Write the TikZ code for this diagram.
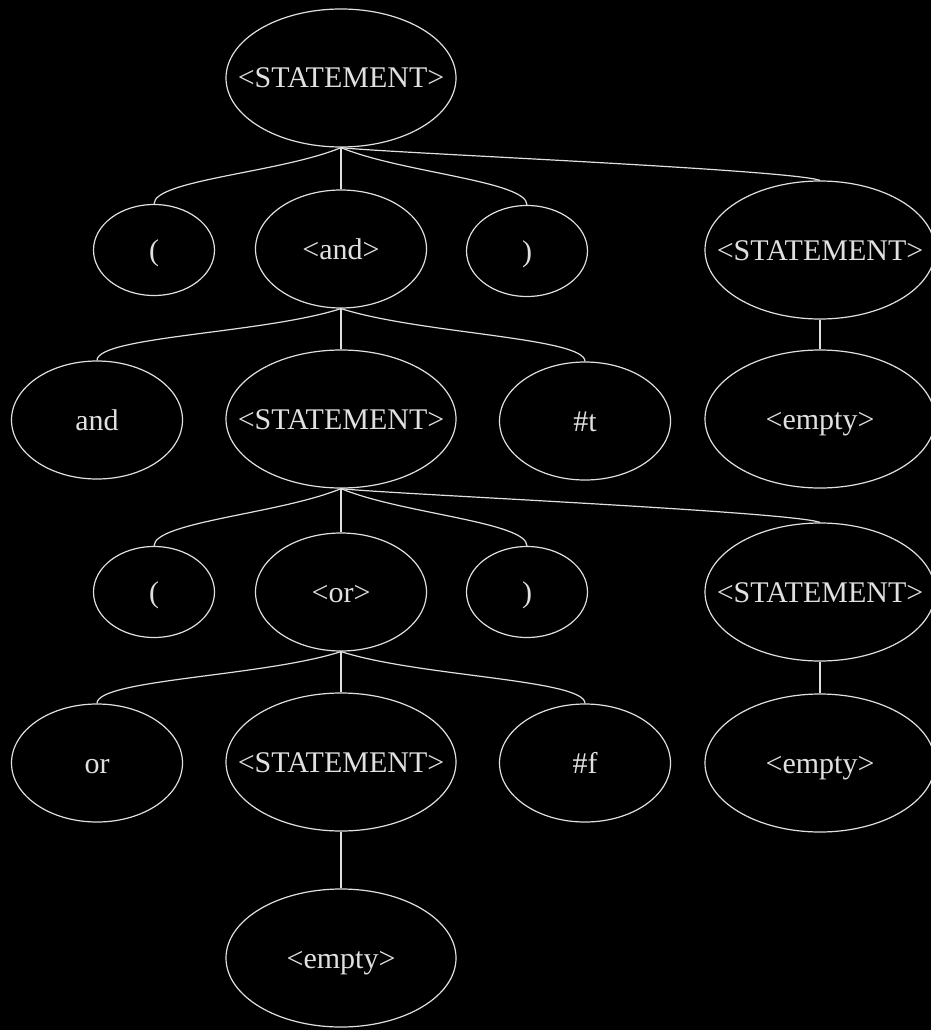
\documentclass[tikz,border=0pt]{standalone}
\usepackage{fontspec}
\setmainfont{Liberation Serif}
\usepackage{tikz}
\usetikzlibrary{shapes.geometric}
\definecolor{inkgray}{gray}{0.88}
\newcommand{\tok}[1]{\makebox[0pt]{#1}}

\begin{document}
\begin{tikzpicture}[
                x=1pt, y=-1pt,
                base/.style={ellipse, draw=inkgray, line width=1.2pt, text=inkgray, inner sep=0pt, text height=20pt, text depth=0pt, font=\fontsize{30}{36}\selectfont},
                bigtok/.style={base, minimum width=230pt, minimum height=138pt},
                midtok/.style={base, minimum width=171pt, minimum height=118pt},
                smalltok/.style={base, minimum width=121pt, minimum height=91pt},
                branch/.style={draw=inkgray, line width=1.2pt}
            ]%
            % Fondo
            \useasboundingbox (0,0) rectangle (931,1030);
            \clip (0,0) rectangle (931,1030);
            \fill[black] (0,0) rectangle (931,1030);
            %
            % Raiz
            \node[bigtok] (s0) at (341,78) {\tok{<STATEMENT>}};
            %
            % Nivel 1
            \node[smalltok] (lp1) at (154,250) {\tok{(}};
            \node[midtok] (and1) at (341,249) {\tok{<and>}};
            \node[smalltok] (rp1) at (527,251) {\tok{)}};
            \node[bigtok] (s1) at (820,250) {\tok{<STATEMENT>}};
            %
            % Nivel 2
            \node[midtok] (andkw) at (97,420) {\tok{and}};
            \node[bigtok] (s2) at (341,419) {\tok{<STATEMENT>}};
            \node[midtok] (tval) at (585,421) {\tok{\#t}};
            \node[bigtok] (e1) at (820,419) {\tok{<empty>}};
            %
            % Nivel 3
            \node[smalltok] (lp2) at (154,592) {\tok{(}};
            \node[midtok] (or1) at (341,592) {\tok{<or>}};
            \node[smalltok] (rp2) at (527,592) {\tok{)}};
            \node[bigtok] (s3) at (820,592) {\tok{<STATEMENT>}};
            %
            % Nivel 4
            \node[midtok] (orkw) at (97,763) {\tok{or}};
            \node[bigtok] (s4) at (341,762) {\tok{<STATEMENT>}};
            \node[midtok] (fval) at (585,763) {\tok{\#f}};
            \node[bigtok] (e2) at (820,763) {\tok{<empty>}};
            %
            % Nivel 5
            \node[bigtok] (e3) at (341,958) {\tok{<empty>}};
            %
            % Ramas desde la raiz
            \draw[branch] (s0.south) .. controls +(-60,25) and +(0,-24) .. (lp1.north);
            \draw[branch] (s0.south) -- (and1.north);
            \draw[branch] (s0.south) .. controls +(60,25) and +(0,-24) .. (rp1.north);
            \draw[branch] (s0.south) .. controls +(40,5) and +(-30,-11) .. (s1.north);
            %
            % Ramas desde <and>
            \draw[branch] (and1.south) .. controls +(-78,25) and +(0,-24) .. (andkw.north);
            \draw[branch] (and1.south) -- (s2.north);
            \draw[branch] (and1.south) .. controls +(78,25) and +(0,-24) .. (tval.north);
            \draw[branch] (s1.south) -- (e1.north);
            %
            % Ramas desde el segundo <STATEMENT>
            \draw[branch] (s2.south) .. controls +(-60,25) and +(0,-24) .. (lp2.north);
            \draw[branch] (s2.south) -- (or1.north);
            \draw[branch] (s2.south) .. controls +(60,25) and +(0,-24) .. (rp2.north);
            \draw[branch] (s2.south) .. controls +(40,5) and +(-30,-11) .. (s3.north);
            %
            % Ramas desde <or>
            \draw[branch] (or1.south) .. controls +(-78,25) and +(0,-24) .. (orkw.north);
            \draw[branch] (or1.south) -- (s4.north);
            \draw[branch] (or1.south) .. controls +(78,25) and +(0,-24) .. (fval.north);
            \draw[branch] (s3.south) -- (e2.north);
            \draw[branch] (s4.south) -- (e3.north);
        \end{tikzpicture}
\end{document}
